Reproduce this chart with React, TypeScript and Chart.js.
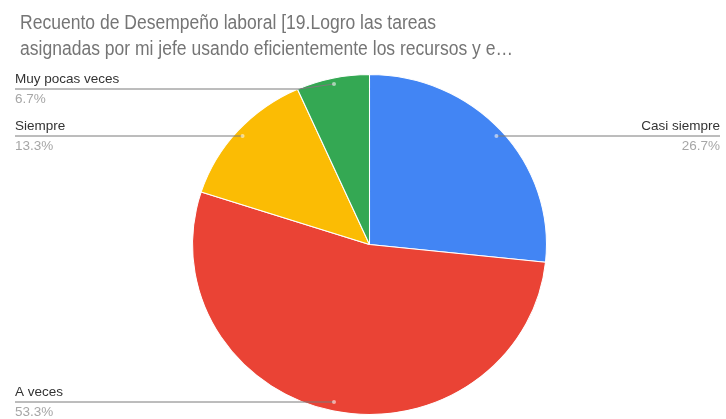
import React, { useEffect, useRef } from "react";
import { Chart, registerables } from "chart.js";

Chart.register(...registerables);

const titleLines = [
  "Recuento de Desempeño laboral [19.Logro las tareas",
  "asignadas por mi jefe usando eficientemente los recursos y e…",
];
const categories = ["Casi siempre", "A veces", "Siempre", "Muy pocas veces"];
const counts = [4, 8, 2, 1];
const percentLabels = ["26.7%", "53.3%", "13.3%", "6.7%"];
const colors = ["#4285f4", "#ea4335", "#fbbc04", "#34a853"];
// label side and the y of the leader line for each slice
const labelSide = ["right", "left", "left", "left"];
const labelLineY = [136, 402, 136, 89];

const X_STRETCH = 1.041;

const labelsPlugin = {
  id: "pieLabels",
  beforeDatasetsDraw(chart: any) {
    const ctx = chart.ctx as CanvasRenderingContext2D;
    const arc = chart.getDatasetMeta(0).data[0];
    ctx.save();
    if (arc) {
      ctx.translate(arc.x, 0);
      ctx.scale(X_STRETCH, 1);
      ctx.translate(-arc.x, 0);
    }
  },
  afterDatasetsDraw(chart: any) {
    chart.ctx.restore();
  },
  afterDraw(chart: any) {
    const ctx = chart.ctx as CanvasRenderingContext2D;
    ctx.save();
    // title
    ctx.fillStyle = "#757575";
    ctx.font = "20px Arial, 'Liberation Sans', sans-serif";
    ctx.textAlign = "left";
    ctx.textBaseline = "middle";
    const w2 = ctx.measureText(titleLines[1]).width;
    const sx = 493 / w2;
    titleLines.forEach((t, i) => {
      ctx.save();
      ctx.translate(20, 23 + i * 26);
      ctx.scale(sx, 1);
      ctx.fillText(t, 0, 0);
      ctx.restore();
    });

    const meta = chart.getDatasetMeta(0);
    meta.data.forEach((arc: any, i: number) => {
      const { x, y, startAngle, endAngle, outerRadius } = arc.getProps(
        ["x", "y", "startAngle", "endAngle", "outerRadius"],
        true
      );
      const mid = (startAngle + endAngle) / 2;
      const r = outerRadius * 0.965;
      const px = x + Math.cos(mid) * r * X_STRETCH;
      const py = y + Math.sin(mid) * r;
      const ly = labelLineY[i];
      const right = labelSide[i] === "right";
      const endX = right ? 720 : 15;
      ctx.strokeStyle = "#7a7a7a";
      ctx.lineWidth = 1;
      ctx.beginPath();
      if (Math.abs(py - ly) > 4) {
        ctx.moveTo(px, py);
        const kx = right ? px + 35 : px - 35;
        ctx.lineTo(kx, ly);
      } else {
        ctx.moveTo(px, ly);
      }
      ctx.lineTo(endX, ly);
      ctx.stroke();
      // anchor dot
      ctx.fillStyle = "rgba(255,255,255,0.55)";
      ctx.beginPath();
      ctx.arc(px, Math.abs(py - ly) > 4 ? py : ly, 2, 0, Math.PI * 2);
      ctx.fill();
      // text
      ctx.textAlign = right ? "right" : "left";
      ctx.textBaseline = "middle";
      ctx.font = "13.5px Arial, 'Liberation Sans', sans-serif";
      ctx.fillStyle = "#333333";
      ctx.fillText(categories[i], endX, ly - 9.5);
      ctx.fillStyle = "#a6a6a6";
      ctx.fillText(percentLabels[i], endX, ly + 10);
    });
    ctx.restore();
  },
};

export default function App() {
  const ref = useRef<HTMLCanvasElement | null>(null);
  useEffect(() => {
    if (!ref.current) return;
    const chart = new Chart(ref.current, {
      type: "pie",
      data: {
        labels: categories,
        datasets: [
          {
            data: counts,
            backgroundColor: colors,
            borderColor: "#ffffff",
            borderWidth: 1,
          },
        ],
      },
      options: {
        animation: false,
        responsive: false,
        maintainAspectRatio: false,
        layout: { padding: { top: 74, bottom: 4, left: 13, right: 0 } },
        plugins: {
          legend: { display: false },
          tooltip: { enabled: false },
          title: { display: false },
        },
      },
      plugins: [labelsPlugin],
    });
    return () => chart.destroy();
  }, []);
  return (
    <div style={{ position: "fixed", left: 0, top: 0, width: 726, height: 419, background: "#fff" }}>
      <canvas ref={ref} width={726} height={419} style={{ width: 726, height: 419, display: "block" }} />
    </div>
  );
}
